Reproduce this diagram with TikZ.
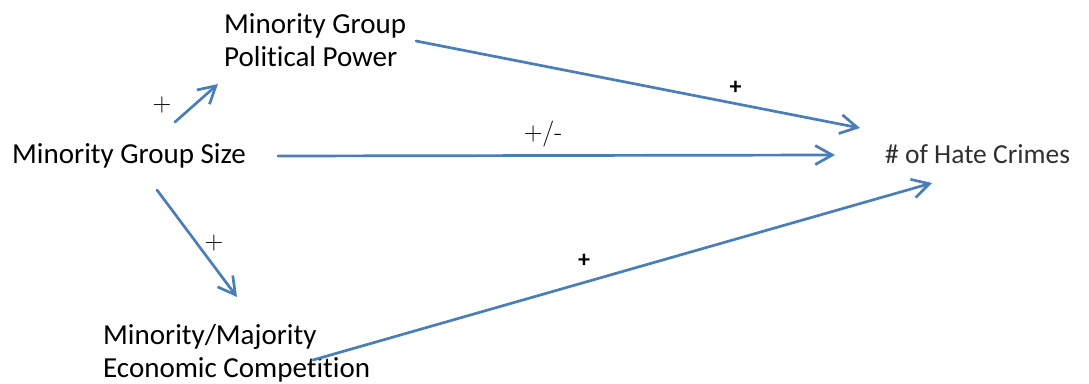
\documentclass[tikz,border=0pt]{standalone}
\usepackage{fontspec}
\setmainfont{Carlito}[Ligatures=NoCommon]
\newfontfamily\lmfont{Latin Modern Roman}
\usetikzlibrary{arrows.meta}
\definecolor{arrblue}{HTML}{4A7EBB}
\definecolor{hategrey}{HTML}{303030}
\tikzset{
  lbl/.style={inner sep=0pt, font=\fontsize{29}{33.5}\selectfont, text=black},
  hatelbl/.style={inner sep=0pt, font=\fontsize{27.5}{33}\selectfont, text=hategrey},
  thinsign/.style={inner sep=0pt, font=\lmfont\fontsize{26}{28}\selectfont},
  boldsign/.style={inner sep=0pt, font=\bfseries\fontsize{24}{26}\selectfont},
  arr/.style={draw=arrblue, line width=2.7pt, line cap=round,
    -{Straight Barb[length=17pt,width=19pt,line width=2.7pt]}}
}
\begin{document}
\begin{tikzpicture}[x=1pt,y=-1pt]
\useasboundingbox (0,0) rectangle (1089,383);
\node[lbl, anchor=base west] (size) at (12,163) {Minority Group Size};
\node[lbl, anchor=north west, align=left] (power) at (224,13) {Minority Group\\Political Power};
\node[lbl, anchor=north west, align=left] (comp) at (103,324) {Minority/Majority\\Economic Competition};
\node[hatelbl, anchor=base west] (hate) at (885,163) {\# of Hate Crimes};

\draw[arr] ([shift={(163,-41)}]size.base west) -- ([shift={(-6,71)}]power.north west);
\draw[arr] ([shift={(192,28)}]power.north west) -- ([shift={(-25,-35)}]hate.base west);
\draw[arr] ([shift={(266,-7)}]size.base west) -- ([shift={(-50,-8)}]hate.base west);
\draw[arr] ([shift={(145,27)}]size.base west) -- ([shift={(134,-27)}]comp.north west);
\draw[arr] ([shift={(210,36)}]comp.north west) -- ([shift={(47,20)}]hate.base west);

\node[thinsign] (s1) at (162,105) {+};
\node[thinsign] (s2) at (543,134) {+/-};
\node[thinsign] (s3) at (214,243) {+};
\node[boldsign] (s4) at (735.5,88) {+};
\node[boldsign] (s5) at (584,260.5) {+};
\end{tikzpicture}
\end{document}
